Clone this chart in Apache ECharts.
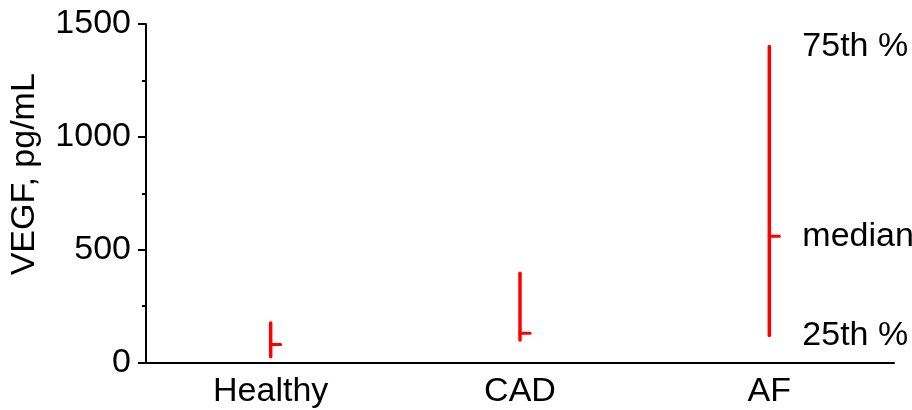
<!DOCTYPE html>
<html>
<head>
<meta charset="utf-8">
<style>
  html, body { margin: 0; padding: 0; background: #ffffff; }
  #chart { width: 912px; height: 410px; }
</style>
<script src="https://cdn.jsdelivr.net/npm/echarts@6/dist/echarts.min.js"></script>
</head>
<body>
<div id="chart"></div>
<script>
// VEGF concentration by group: interquartile range with median
const categories = ['Healthy', 'CAD', 'AF'];
const q25 = [25, 100, 120];
const median = [80, 130, 560];
const q75 = [175, 395, 1400];
const yTicks = [0, 500, 1000, 1500];
const keyLabels = ['25th %', 'median', '75th %'];

const FONT = 'Liberation Sans, Arial, sans-serif';
const FS = 34;
const RED = '#ff0000';
const seriesData = categories.map((c, i) => [i, q25[i], median[i], q75[i]]);
const keyIndex = categories.length - 1;

function renderRange(params, api) {
  const i = api.value(0);
  const lo = api.coord([i, api.value(1)]);
  const md = api.coord([i, api.value(2)]);
  const hi = api.coord([i, api.value(3)]);
  const children = [
    {
      type: 'line',
      shape: { x1: lo[0], y1: lo[1], x2: hi[0], y2: hi[1] },
      style: { stroke: RED, lineWidth: 3.5, lineCap: 'round' }
    },
    {
      type: 'line',
      shape: { x1: md[0], y1: md[1], x2: md[0] + 10, y2: md[1] },
      style: { stroke: RED, lineWidth: 3, lineCap: 'round' }
    }
  ];
  if (params.dataIndex === keyIndex) {
    [lo, md, hi].forEach((p, k) => {
      children.push({
        type: 'text',
        x: p[0] + 33,
        y: p[1],
        style: {
          text: keyLabels[k],
          fill: '#000',
          font: FS + 'px ' + FONT,
          verticalAlign: 'middle',
          align: 'left'
        }
      });
    });
  }
  return { type: 'group', children };
}

const chart = echarts.init(document.getElementById('chart'), null, { renderer: 'canvas' });
chart.setOption({
  animation: false,
  backgroundColor: '#ffffff',
  grid: { left: 140, right: 18, top: 24, bottom: 47.5, containLabel: false },
  xAxis: [
    {
      type: 'category',
      data: categories,
      boundaryGap: true,
      axisLine: { lineStyle: { color: '#000', width: 2 } },
      axisTick: { alignWithLabel: true, length: 8, lineStyle: { color: '#000', width: 2 } },
      axisLabel: { color: '#000', fontSize: FS, fontFamily: FONT, margin: 12 },
      splitLine: { show: false }
    },
    {
      type: 'category',
      data: categories,
      position: 'bottom',
      boundaryGap: true,
      axisLine: { show: false },
      axisTick: { alignWithLabel: false, length: 4, lineStyle: { color: '#000', width: 2 } },
      axisLabel: { show: false },
      splitLine: { show: false }
    }
  ],
  yAxis: {
    type: 'value',
    min: yTicks[0],
    max: yTicks[yTicks.length - 1],
    interval: yTicks[1] - yTicks[0],
    name: 'VEGF, pg/mL',
    nameLocation: 'middle',
    nameGap: 104,
    nameTextStyle: { color: '#000', fontSize: FS, fontFamily: FONT, padding: [0, 0, 0, 38] },
    axisLine: { show: true, lineStyle: { color: '#000', width: 2 } },
    axisTick: { show: true, length: 8, lineStyle: { color: '#000', width: 2 } },
    minorTick: { show: true, splitNumber: 2, length: 4, lineStyle: { color: '#000', width: 2 } },
    axisLabel: { color: '#000', fontSize: FS, fontFamily: FONT, margin: 15, formatter: v => String(v) },
    splitLine: { show: false }
  },
  series: [
    {
      type: 'custom',
      xAxisIndex: 0,
      renderItem: renderRange,
      encode: { x: 0, y: [1, 2, 3] },
      data: seriesData
    }
  ]
});
</script>
</body>
</html>
